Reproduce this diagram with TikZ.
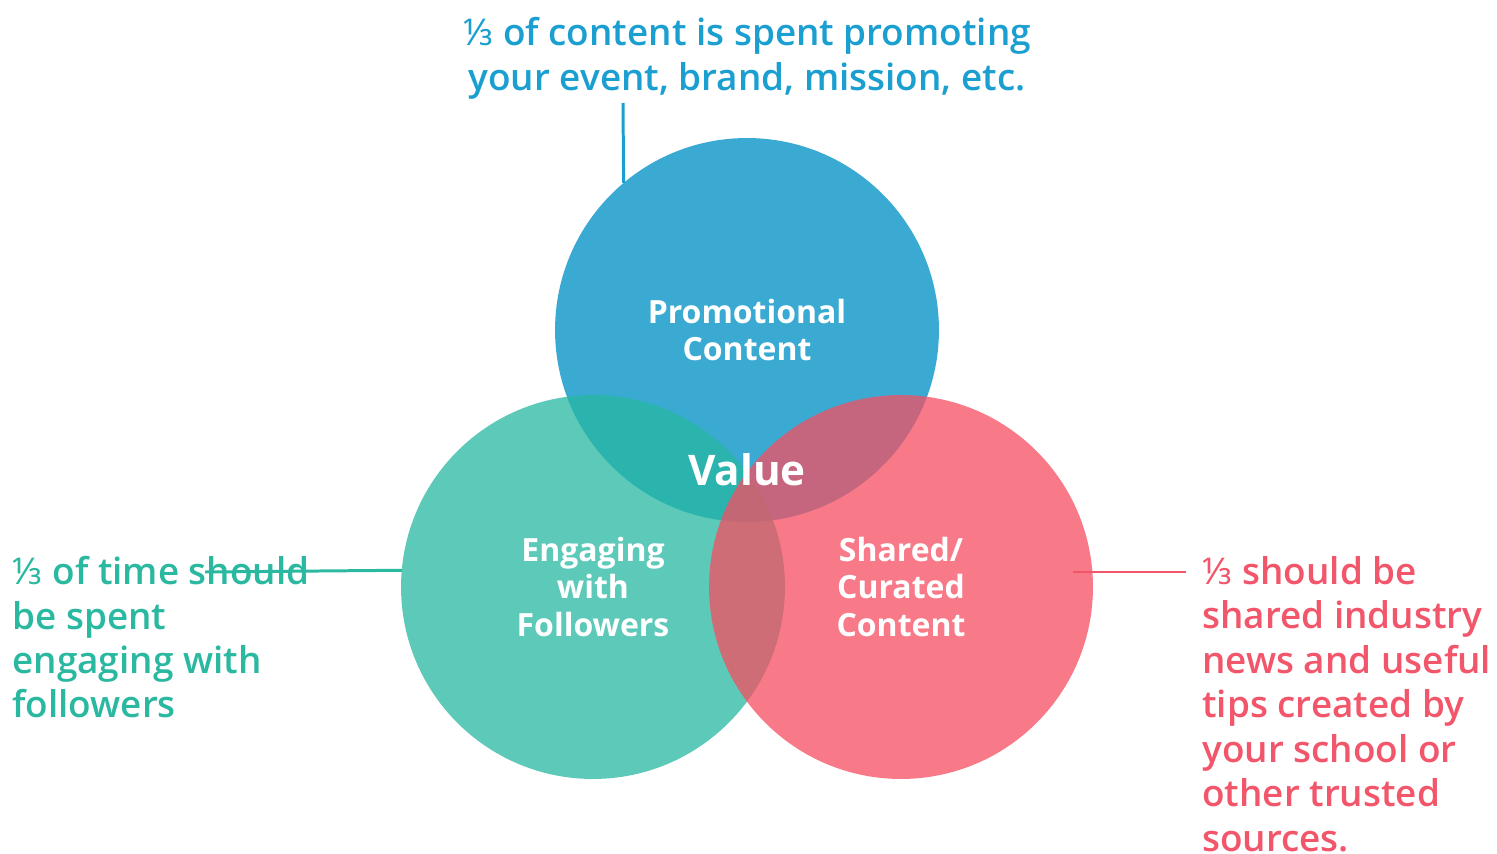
\documentclass[tikz,border=0pt]{standalone}
\usepackage{fontspec}
\setmainfont{Open Sans}
\IfFontExistsTF{Open Sans SemiBold}{\newfontfamily\notefont{Open Sans SemiBold}}{%
	\IfFontExistsTF{Open Sans Semibold}{\newfontfamily\notefont{Open Sans Semibold}}{%
		\newfontfamily\notefont{Open Sans}[FakeBold=0.6]}}
\newfontfamily\fracfont{Noto Sans}
\newfontfamily\fracbackup{DejaVu Sans}
\newcommand\onethird{{\fracfont\iffontchar\font"2153 \char"2153 \else{\fracbackup\char"2153}\fi}}
\usetikzlibrary{positioning}

\definecolor{promoblue}{HTML}{3AAAD2}
\definecolor{engagegreen}{HTML}{27B7A2}
\definecolor{sharedred}{HTML}{F64E62}
\definecolor{promotext}{HTML}{1A9FD0}
\definecolor{engagetext}{HTML}{2BB8A0}
\definecolor{sharedtext}{HTML}{F2566B}

\tikzset{
	ring/.style={circle, minimum size=7.68cm, inner sep=0pt, outer sep=0pt, draw=none},
	ringlabel/.style={text=white, font=\fontsize{18.2}{21.5}\selectfont\bfseries, align=center},
	note/.style={font=\notefont\fontsize{21}{25.3}\selectfont, inner sep=0pt},
	pointer/.style={line width=1.7pt}
}

\begin{document}
\begin{tikzpicture}[x=0.02cm, y=-0.02cm]
	\useasboundingbox (0,0) rectangle (1497,854);

	\node[ring, fill=promoblue] (promo) at (747,330) {};
	\node[ring, fill=engagegreen, fill opacity=0.75] (engage) at (593,587) {};
	\node[ring, fill=sharedred, fill opacity=0.75] (shared) at (901,587) {};

	\node[ringlabel] at (promo) {Promotional\\Content};
	\node[ringlabel] at (engage) {Engaging\\with\\Followers};
	\node[ringlabel] at (shared) {Shared/\\Curated\\Content};
	\node[text=white, font=\fontsize{24}{28}\selectfont\bfseries] (value) at (747,470) {Value};

	\node[note, text=promotext, align=center, anchor=north] (promonote) at (747,17)
		{\onethird{} of content is spent promoting\\your event, brand, mission, etc.};
	\node[note, text=engagetext, align=left, anchor=north west] (engagenote) at (12,556)
		{\onethird{} of time should\\be spent\\engaging with\\followers};
	\node[note, text=sharedtext, align=left, anchor=north west] (sharednote) at (1202,556)
		{\onethird{} should be\\shared industry\\news and useful\\tips created by\\your school or\\other trusted\\sources.};

	\coordinate (promotip) at (623,103);
	\coordinate (engagetip) at (205,572);
	\coordinate (sharedin) at (1073,572);
	\coordinate (sharedtip) at (1186,572);

	\draw[pointer, promotext] (promotip) -- (promo.130.2);
	\draw[pointer, engagetext] (engagetip) -- (engage.175.5);
	\draw[pointer, sharedtext] (sharedin) -- (sharedtip);
\end{tikzpicture}
\end{document}
